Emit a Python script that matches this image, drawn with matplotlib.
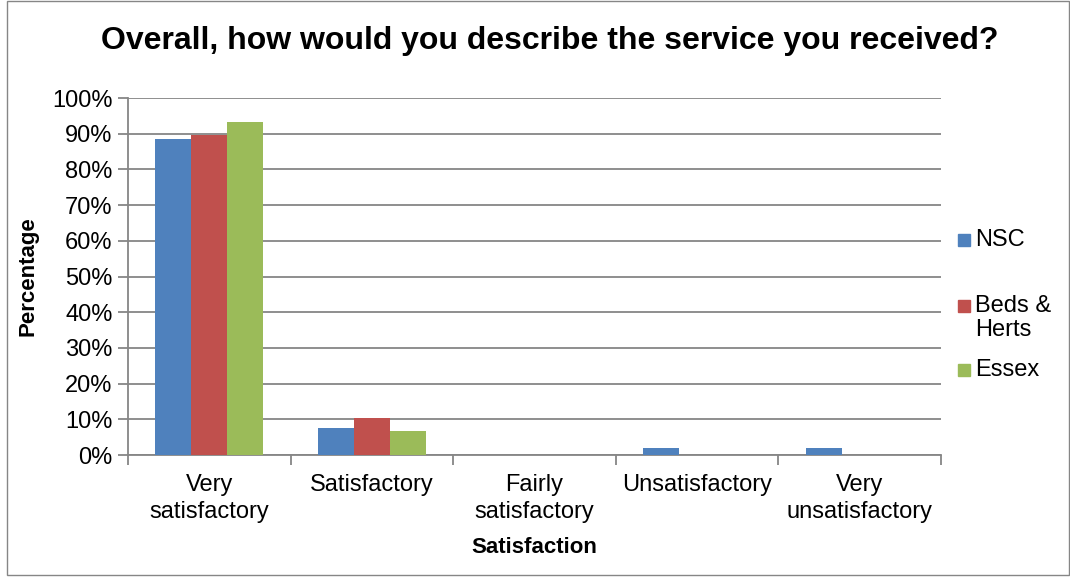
import numpy as np
import matplotlib.pyplot as plt
from matplotlib.patches import Rectangle

plt.rcParams['font.family'] = ['Liberation Sans', 'DejaVu Sans']

categories = ['Very\nsatisfactory', 'Satisfactory', 'Fairly\nsatisfactory',
              'Unsatisfactory', 'Very\nunsatisfactory']
series = ['NSC', 'Beds &\nHerts', 'Essex']
nsc = [88.5, 7.7, 0.0, 1.9, 1.9]
beds = [89.6, 10.4, 0.0, 0.0, 0.0]
essex = [93.3, 6.7, 0.0, 0.0, 0.0]
colors = ['#4F81BD', '#C0504D', '#9BBB59']

fig = plt.figure(figsize=(10.7, 5.77), dpi=100)
ax = fig.add_axes([0.1196, 0.2114, 0.7598, 0.6187])

x = np.arange(len(categories))
w = 0.222
for i, (vals, lab, c) in enumerate(zip([nsc, beds, essex], series, colors)):
    ax.bar(x + (i - 1) * w, vals, w, color=c, label=lab, zorder=3)

ax.set_xlim(-0.5, len(categories) - 0.5)
ax.set_ylim(0, 100)
ax.set_yticks(np.arange(0, 101, 10))
ax.set_yticklabels([f'{v}%' for v in range(0, 101, 10)])
ax.yaxis.grid(True, color='#868686', linewidth=1.3, zorder=0)

ax.set_xticks(x)
ax.set_xticklabels(categories, fontsize=17, linespacing=1.25)
ax.set_xticks(np.arange(-0.5, len(categories)), minor=True)
ax.tick_params(axis='x', which='major', length=0, pad=14)
ax.tick_params(axis='x', which='minor', length=7, width=1.3, color='#868686', direction='out')
ax.tick_params(axis='y', length=7, width=1.3, color='#868686', labelsize=17, pad=4)

for s in ['top', 'right']:
    ax.spines[s].set_visible(False)
for s in ['left', 'bottom']:
    ax.spines[s].set_color('#868686')
    ax.spines[s].set_linewidth(1.3)

ax.set_xlabel('Satisfaction', fontsize=16, fontweight='bold', labelpad=10)
ax.set_ylabel('Percentage', fontsize=16, fontweight='bold', labelpad=10)
fig.suptitle('Overall, how would you describe the service you received?',
             fontsize=23, fontweight='bold', x=0.514, y=0.955)

# legend laid out by hand like the Excel original (uneven spacing)
leg_y = [1 - 240 / 577, 1 - 318 / 577, 1 - 370 / 577]
for lab, c, yy in zip(series, colors, leg_y):
    first_line = yy + (12.5 / 577 if '\n' in lab else 0)
    fig.patches.append(Rectangle((958 / 1070, first_line - 6 / 577), 12 / 1070, 12 / 577,
                                 transform=fig.transFigure, color=c))
    fig.text(975 / 1070, yy, lab, fontsize=17, va='center', ha='left', linespacing=1.1)

fig.patches.append(Rectangle((0.007, 0.003), 0.992, 0.996, transform=fig.transFigure,
                             fill=False, edgecolor='#868686', linewidth=1.0))

fig.savefig('out.png', dpi=100)
